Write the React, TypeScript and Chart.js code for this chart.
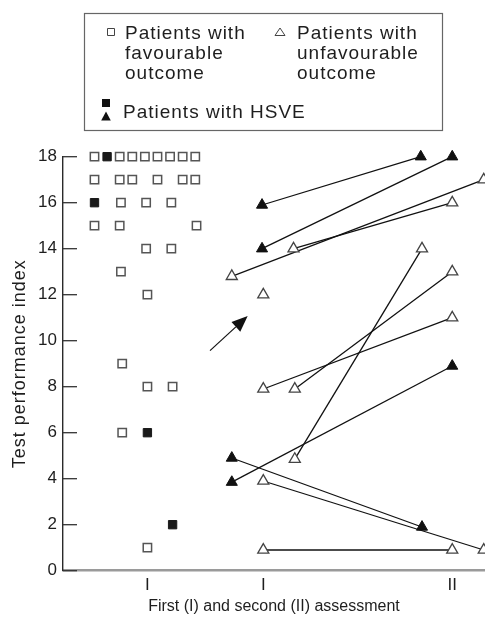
import React, { useEffect, useRef } from 'react';
import { Chart, registerables } from 'chart.js';

Chart.register(...registerables);

// ---- axis ticks ----
const yTickValues = [0, 2, 4, 6, 8, 10, 12, 14, 16, 18];
const xTickValues = [6.2, 15.4, 30.4];
const xTickLabels = ['I', 'I', 'II'];
const xTitle = 'First (I) and second (II) assessment';
const yTitle = 'Test performance index';

// ---- favourable outcome (first assessment only), open squares ----
const favOpenX = [2, 4, 5, 6, 7, 8, 9, 10, 2, 4, 5, 7, 9, 10, 4.1, 6.1, 8.1, 2, 4, 10.1, 6.1, 8.1, 4.1, 6.2, 4.2, 6.2, 8.2, 4.2, 6.2];
const favOpenY = [18, 18, 18, 18, 18, 18, 18, 18, 17, 17, 17, 17, 17, 17, 16, 16, 16, 15, 15, 15, 14, 14, 13, 12, 9, 8, 8, 6, 1];
// ---- favourable outcome with HSVE, filled squares ----
const favHsveX = [3, 2, 6.2, 8.2];
const favHsveY = [18, 16, 6, 2];

// ---- unfavourable outcome: first -> second assessment pairs ----
const unfavFirstX = [15.3, 15.3, 17.8, 12.9, 15.4, 17.9, 17.9, 12.9, 12.9, 15.4, 15.4];
const unfavFirstY = [15.9, 14, 14, 12.8, 7.9, 7.9, 4.85, 4.9, 3.85, 3.9, 0.9];
const unfavSecondX = [27.9, 30.4, 30.4, 32.9, 30.4, 30.4, 28.0, 28.0, 30.4, 32.9, 30.4];
const unfavSecondY = [18, 18, 16, 17, 11, 13, 14, 1.9, 8.9, 0.9, 0.9];
const unfavHsve = [true, true, false, false, false, false, false, true, true, false, false];
// unfavourable, single assessment only
const unfavLoneX = [15.4];
const unfavLoneY = [12];

// ---- arrow annotation (data units) ----
const arrowFrom = { x: 11.17, y: 9.57 };
const arrowTo = { x: 14.16, y: 11.07 };

const FAMILY = '"Liberation Sans", Arial, Helvetica, sans-serif';
const TEXT = '#1e1e1e';

const innerTicksPlugin = {
  id: 'innerTicks',
  afterDatasetsDraw(chart: any) {
    const { ctx, chartArea, scales } = chart;
    ctx.save();
    ctx.strokeStyle = '#333';
    ctx.lineWidth = 1.3;
    yTickValues.forEach((v) => {
      const py = scales.y.getPixelForValue(v);
      ctx.beginPath();
      ctx.moveTo(chartArea.left, py);
      ctx.lineTo(chartArea.left + 14, py);
      ctx.stroke();
    });
    ctx.restore();
  },
};

const yTitlePlugin = {
  id: 'yTitle',
  afterDraw(chart: any) {
    const { ctx, chartArea } = chart;
    ctx.save();
    ctx.translate(20, (chartArea.top + chartArea.bottom) / 2);
    ctx.rotate(-Math.PI / 2);
    ctx.fillStyle = TEXT;
    ctx.font = `18px ${FAMILY}`;
    (ctx as any).letterSpacing = '1px';
    ctx.textAlign = 'center';
    ctx.textBaseline = 'middle';
    ctx.fillText(yTitle, 0, 0);
    ctx.restore();
  },
};

const arrowPlugin = {
  id: 'arrow',
  afterDatasetsDraw(chart: any) {
    const { ctx, scales } = chart;
    const x1 = scales.x.getPixelForValue(arrowFrom.x);
    const y1 = scales.y.getPixelForValue(arrowFrom.y);
    const x2 = scales.x.getPixelForValue(arrowTo.x);
    const y2 = scales.y.getPixelForValue(arrowTo.y);
    const ang = Math.atan2(y2 - y1, x2 - x1);
    const len = 16;
    const hw = 6.5;
    const bx = x2 - len * Math.cos(ang);
    const by = y2 - len * Math.sin(ang);
    ctx.save();
    ctx.strokeStyle = '#111';
    ctx.fillStyle = '#111';
    ctx.lineWidth = 1.2;
    ctx.beginPath();
    ctx.moveTo(x1, y1);
    ctx.lineTo(bx, by);
    ctx.stroke();
    ctx.beginPath();
    ctx.moveTo(x2, y2);
    ctx.lineTo(bx + hw * Math.sin(ang), by - hw * Math.cos(ang));
    ctx.lineTo(bx - hw * Math.sin(ang), by + hw * Math.cos(ang));
    ctx.closePath();
    ctx.fill();
    ctx.restore();
  },
};

const legendPlugin = {
  id: 'boxLegend',
  afterDraw(chart: any) {
    const { ctx } = chart;
    ctx.save();
    ctx.strokeStyle = '#666';
    ctx.lineWidth = 1.2;
    ctx.strokeRect(84.5, 13.5, 358, 117);

    // open square
    ctx.fillStyle = '#fff';
    ctx.strokeStyle = '#444';
    ctx.lineWidth = 1;
    ctx.beginPath();
    ctx.rect(107.5, 28.5, 7, 7);
    ctx.fill();
    ctx.stroke();
    // open triangle
    ctx.beginPath();
    ctx.moveTo(280, 28);
    ctx.lineTo(285, 35.5);
    ctx.lineTo(275, 35.5);
    ctx.closePath();
    ctx.stroke();
    // filled square + triangle
    ctx.fillStyle = '#111';
    ctx.fillRect(102, 99, 8, 8);
    ctx.beginPath();
    ctx.moveTo(106, 111.5);
    ctx.lineTo(110.8, 120.5);
    ctx.lineTo(101.2, 120.5);
    ctx.closePath();
    ctx.fill();

    ctx.fillStyle = TEXT;
    ctx.font = `19px ${FAMILY}`;
    (ctx as any).letterSpacing = '1px';
    ctx.textBaseline = 'alphabetic';
    ctx.textAlign = 'left';
    const col1 = ['Patients with', 'favourable', 'outcome'];
    const col2 = ['Patients with', 'unfavourable', 'outcome'];
    const bases = [39.3, 59.2, 79];
    col1.forEach((t, i) => ctx.fillText(t, 125, bases[i]));
    col2.forEach((t, i) => ctx.fillText(t, 297, bases[i]));
    ctx.fillText('Patients with HSVE', 123, 118.3);
    ctx.restore();
  },
};

export default function App() {
  const ref = useRef<HTMLCanvasElement>(null);

  useEffect(() => {
    const canvas = ref.current;
    if (!canvas) return;

    const openTri: { x: number; y: number }[] = [];
    const filledTri: { x: number; y: number }[] = [];
    unfavFirstX.forEach((_, i) => {
      const target = unfavHsve[i] ? filledTri : openTri;
      target.push({ x: unfavFirstX[i], y: unfavFirstY[i] });
      target.push({ x: unfavSecondX[i], y: unfavSecondY[i] });
    });
    unfavLoneX.forEach((x, i) => openTri.push({ x, y: unfavLoneY[i] }));

    const lineSets = unfavFirstX.map((_, i) => ({
      label: `pair${i}`,
      data: [
        { x: unfavFirstX[i], y: unfavFirstY[i] },
        { x: unfavSecondX[i], y: unfavSecondY[i] },
      ],
      showLine: true,
      borderColor: '#111',
      borderWidth: 1.3,
      pointRadius: 0,
      order: 5,
      clip: false as any,
    }));

    const chart = new Chart(canvas, {
      type: 'scatter',
      data: {
        datasets: [
          ...lineSets,
          {
            label: 'favourable',
            data: favOpenX.map((x, i) => ({ x, y: favOpenY[i] })),
            pointStyle: 'rect',
            pointRadius: 5.9,
            backgroundColor: '#fff',
            borderColor: '#555',
            borderWidth: 1.5,
            order: 1,
            clip: false as any,
          },
          {
            label: 'favourable HSVE',
            data: favHsveX.map((x, i) => ({ x, y: favHsveY[i] })),
            pointStyle: 'rect',
            pointRadius: 5.9,
            backgroundColor: '#1a1a1a',
            borderColor: '#1a1a1a',
            borderWidth: 1,
            order: 1,
            clip: false as any,
          },
          {
            label: 'unfavourable',
            data: openTri,
            pointStyle: 'triangle',
            pointRadius: 6.4,
            backgroundColor: '#fff',
            borderColor: '#444',
            borderWidth: 1.3,
            order: 1,
            clip: false as any,
          },
          {
            label: 'unfavourable HSVE',
            data: filledTri,
            pointStyle: 'triangle',
            pointRadius: 6.4,
            backgroundColor: '#111',
            borderColor: '#111',
            borderWidth: 1,
            order: 1,
            clip: false as any,
          },
        ],
      },
      options: {
        responsive: false,
        animation: false,
        events: [],
        layout: { autoPadding: false, padding: { top: 156.7, left: 0, right: 0, bottom: 0 } },
        scales: {
          x: {
            type: 'linear',
            min: -0.5,
            max: 33,
            afterBuildTicks: (s: any) => {
              s.ticks = xTickValues.map((v) => ({ value: v }));
            },
            afterFit: (s: any) => {
              s.height = 51.3;
            },
            ticks: {
              autoSkip: false,
              maxRotation: 0,
              minRotation: 0,
              padding: 4,
              color: TEXT,
              font: { family: FAMILY, size: 17 },
              callback: (_v: any, i: number) => xTickLabels[i],
            },
            grid: { display: false, drawTicks: false },
            border: { display: true, color: '#9a9a9a', width: 2.5 },
            title: {
              display: true,
              text: xTitle,
              color: TEXT,
              font: { family: FAMILY, size: 16 },
              padding: { top: 0, bottom: 5.4 },
            },
          },
          y: {
            type: 'linear',
            min: 0,
            max: 18,
            afterBuildTicks: (s: any) => {
              s.ticks = yTickValues.map((v) => ({ value: v }));
            },
            afterFit: (s: any) => {
              s.width = 63;
            },
            ticks: {
              padding: 6,
              color: TEXT,
              font: { family: FAMILY, size: 17 },
            },
            grid: { display: false, drawTicks: false },
            border: { display: true, color: '#2a2a2a', width: 1.4 },
            title: { display: false },
          },
        },
        plugins: {
          legend: { display: false },
          tooltip: { enabled: false },
        },
      },
      plugins: [innerTicksPlugin, arrowPlugin, legendPlugin, yTitlePlugin],
    });

    return () => chart.destroy();
  }, []);

  return (
    <div style={{ position: 'absolute', left: 0, top: 0, width: 485, height: 622 }}>
      <canvas ref={ref} width={485} height={622} style={{ display: 'block' }} />
    </div>
  );
}
